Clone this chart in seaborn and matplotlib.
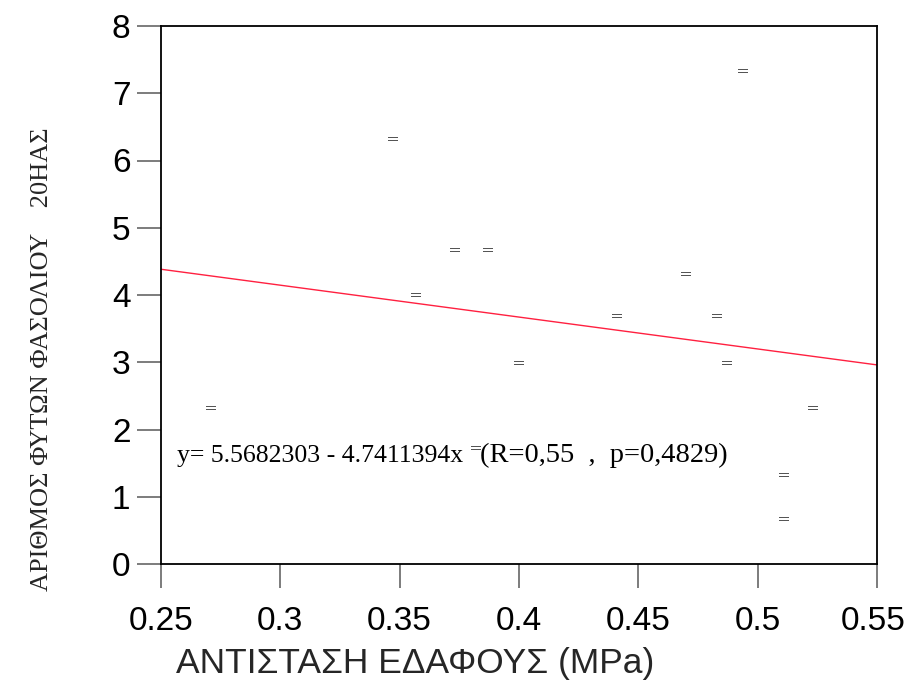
import matplotlib
matplotlib.use("Agg")
import matplotlib.pyplot as plt
import matplotlib.transforms as mtransforms
import seaborn as sns
import numpy as np
import pandas as pd

# Data
soil_resistance = [0.271, 0.347, 0.357, 0.373, 0.387, 0.400, 0.441, 0.470,
                   0.483, 0.487, 0.494, 0.523, 0.511, 0.511, 0.382]
plant_count = [2.32, 6.32, 4.00, 4.67, 4.67, 2.99, 3.69, 4.31,
               3.69, 2.99, 7.33, 2.32, 1.32, 0.67, 1.72]
intercept = 5.5682303
slope = -4.7411394
x_ticks = [0.25, 0.3, 0.35, 0.4, 0.45, 0.5, 0.55]
x_tick_labels = ["0.25", "0.3", "0.35", "0.4", "0.45", "0.5", "0.55"]
y_ticks = [0, 1, 2, 3, 4, 5, 6, 7, 8]
equation_text = "y= 5.5682303 - 4.7411394x"
stats_text = "(R=0,55  ,  p=0,4829)"
x_label = "ΑΝΤΙΣΤΑΣΗ ΕΔΑΦΟΥΣ (MPa)"
y_label = "ΑΡΙΘΜΟΣ ΦΥΤΩΝ ΦΑΣΟΛΙΟΥ    20ΗΑΣ"

sns.set_style("ticks")
plt.rcParams['font.family'] = ['Liberation Sans', 'DejaVu Sans']

df = pd.DataFrame({"x": soil_resistance, "y": plant_count})

W, H = 907, 681
fig = plt.figure(figsize=(W / 100, H / 100), dpi=100)
ax = fig.add_axes([161 / W, 1 - 564 / H, (877 - 161) / W, (564 - 26) / H])

sns.scatterplot(data=df, x="x", y="y", ax=ax, marker="$=$", s=45,
                color="#555555", linewidth=0, legend=False, zorder=3)

line_x = np.array([0.25, 0.55])
line_df = pd.DataFrame({"x": line_x, "y": intercept + slope * line_x})
sns.lineplot(data=line_df, x="x", y="y", ax=ax, color="#ff2040", linewidth=1.0)

ax.set_xlim(0.25, 0.55)
ax.set_ylim(0, 8)
ax.set_xticks(x_ticks)
ax.set_xticklabels(x_tick_labels)
ax.set_yticks(y_ticks)
ax.tick_params(axis="both", direction="out", length=17, width=1.2,
               color="#666666", labelsize=24, labelcolor="black")
ax.tick_params(axis="x", pad=13)
ax.tick_params(axis="y", pad=5)

# keep the last x tick label inside the canvas
last_lbl = ax.get_xticklabels()[-1]
last_lbl.set_transform(last_lbl.get_transform() +
                       mtransforms.ScaledTranslation(-4 / 100, 0, fig.dpi_scale_trans))

for side in ["left", "bottom", "top", "right"]:
    ax.spines[side].set_visible(True)
    ax.spines[side].set_color("black")
    ax.spines[side].set_linewidth(1.3)

ax.set_xlabel(x_label, fontsize=25.5, family=['Liberation Sans', 'DejaVu Sans'])
ax.xaxis.set_label_coords((415 - 161) / 716, (564 - 647) / 538)
ax.set_ylabel(y_label, fontsize=19, family=['Liberation Serif', 'DejaVu Serif'])
ax.yaxis.set_label_coords((53 - 161) / 716, 1 - (359 - 26) / 538)

serif = ['Liberation Serif', 'DejaVu Serif']
ax.text((177 - 161) / 716, (564 - 462) / 538, equation_text, transform=ax.transAxes,
        fontsize=18.5, family=serif, color="black", ha="left", va="baseline")
ax.text((480 - 161) / 716, (564 - 462) / 538, stats_text, transform=ax.transAxes,
        fontsize=20.5, family=serif, color="black", ha="left", va="baseline")

fig.savefig("out.png", dpi=100)
